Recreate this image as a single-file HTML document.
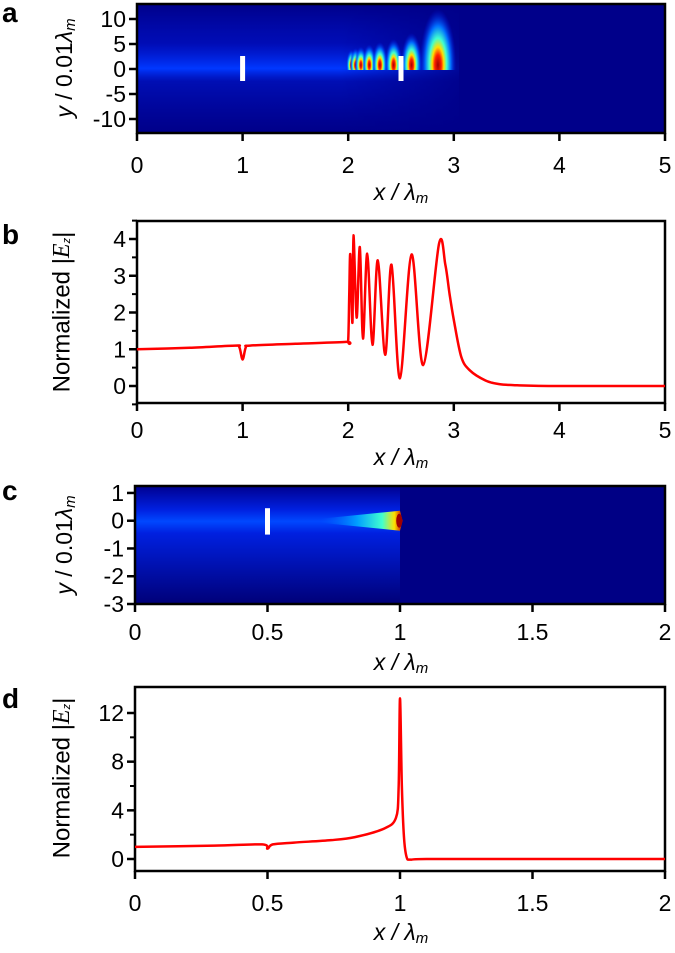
<!DOCTYPE html>
<html><head><meta charset="utf-8"><style>
html,body{margin:0;padding:0;background:#fff;}
svg{display:block;font-family:"Liberation Sans",sans-serif;}
</style></head><body>
<svg id="fig" width="675" height="953" viewBox="0 0 675 953" xmlns="http://www.w3.org/2000/svg">
<defs>
<radialGradient id="lobe" cx="0.5" cy="0.5" r="0.5">
<stop offset="0" stop-color="#a00000"/><stop offset="0.18" stop-color="#ff2000"/>
<stop offset="0.32" stop-color="#ffe000"/><stop offset="0.48" stop-color="#40ffd0"/>
<stop offset="0.7" stop-color="#0070ff"/><stop offset="1" stop-color="#0010e0" stop-opacity="0"/>
</radialGradient>
<linearGradient id="bandA" x1="0" y1="0" x2="0" y2="1">
<stop offset="0" stop-color="#0020ff" stop-opacity="0"/><stop offset="0.3" stop-color="#0018e0" stop-opacity="0.5"/>
<stop offset="0.5" stop-color="#0038ff"/><stop offset="0.6" stop-color="#0018d0" stop-opacity="0.6"/>
<stop offset="1" stop-color="#0010c0" stop-opacity="0"/>
</linearGradient>
<linearGradient id="fadeA" x1="0" y1="0" x2="1" y2="0">
<stop offset="0" stop-color="#fff"/><stop offset="0.6" stop-color="#fff"/><stop offset="1" stop-color="#fff" stop-opacity="0"/>
</linearGradient>
<mask id="maskA"><rect x="137" y="4" width="340" height="129" fill="url(#fadeA)"/></mask>
<linearGradient id="bandC" x1="0" y1="0" x2="0" y2="1">
<stop offset="0" stop-color="#000090"/><stop offset="0.2" stop-color="#0020e0"/>
<stop offset="0.3" stop-color="#0048ff"/><stop offset="0.4" stop-color="#0020e0"/>
<stop offset="1" stop-color="#000078"/>
</linearGradient>
<linearGradient id="hotC" x1="0" y1="0" x2="1" y2="0">
<stop offset="0" stop-color="#0060ff" stop-opacity="0"/><stop offset="0.45" stop-color="#00a0ff"/>
<stop offset="0.75" stop-color="#40ffd0"/><stop offset="0.9" stop-color="#ffe000"/>
<stop offset="1" stop-color="#c00000"/>
</linearGradient>
<clipPath id="clipA"><rect x="137" y="4" width="528" height="66"/></clipPath>
</defs>
<g id="root"></g>
</svg>
<script>
// Panel b data
const bX = [0,0.5,0.93,0.97,1.0,1.03,1.07,1.5,1.98,2.0,2.01,2.02,2.04,2.05,2.08,2.11,2.14,2.18,2.23,2.28,2.35,2.41,2.49,2.6,2.71,2.86,2.92,2.96,3.0,3.07,3.15,3.3,3.43,3.6,4,5];
const bY = [1.0,1.04,1.1,1.05,0.72,1.05,1.1,1.15,1.2,1.25,2.5,3.58,1.72,4.1,1.86,3.78,1.29,3.6,1.12,3.42,0.85,3.3,0.21,3.58,0.57,3.87,3.3,2.5,1.8,0.8,0.43,0.15,0.05,0.02,0,0];
// Panel d data
const dX = [0,0.3,0.48,0.5,0.52,0.6,0.74,0.83,0.94,0.985,0.995,1.0,1.007,1.015,1.025,1.04,1.1,1.5,2];
const dY = [1.0,1.1,1.2,0.85,1.2,1.35,1.55,1.8,2.5,3.4,6.0,13.2,6.0,1.8,0.15,-0.05,0,0,0];
// Panel a lobes (x centre, relative size)
const lobeX = [2.03,2.07,2.12,2.2,2.3,2.43,2.6,2.85];
const lobeS = [0.25,0.3,0.35,0.42,0.5,0.6,0.8,1.6];
// tick labels
const aXT=[0,1,2,3,4,5], aYT=[10,5,0,-5,-10], bYT=[0,1,2,3,4], cXT=[0,0.5,1,1.5,2], cYT=[1,0,-1,-2,-3], dYT=[0,4,8,12];

const NS="http://www.w3.org/2000/svg", root=document.getElementById('root');
function el(tag,attrs,parent){const e=document.createElementNS(NS,tag);for(const k in attrs)e.setAttribute(k,attrs[k]);(parent||root).appendChild(e);return e;}
function lin(d0,d1,r0,r1){return v=>r0+(v-d0)/(d1-d0)*(r1-r0);}
function txt(x,y,s,size,parent,extra){const t=el('text',Object.assign({x:x,y:y,'font-size':size,'text-anchor':'middle','dominant-baseline':'central',fill:'#000'},extra||{}),parent);t.textContent=s;return t;}
function xTitle(cx,cy){const g=el('g',{});
 const t=el('text',{x:cx,y:cy,'font-size':23,'text-anchor':'middle','dominant-baseline':'central','font-style':'italic'},g);
 t.innerHTML='x / λ<tspan font-size="15" dy="6">m</tspan>';}
function curvePath(xs,ys,sx,sy){let p=[];for(let i=0;i<xs.length;i++)p.push([sx(xs[i]),sy(ys[i])]);
 let d='M'+p[0][0]+','+p[0][1];for(let i=0;i<p.length-1;i++){const p0=p[Math.max(i-1,0)],p1=p[i],p2=p[i+1],p3=p[Math.min(i+2,p.length-1)];
 const t=0.16;d+=` C${p1[0]+(p2[0]-p0[0])*t},${p1[1]+(p2[1]-p0[1])*t} ${p2[0]-(p3[0]-p1[0])*t},${p2[1]-(p3[1]-p1[1])*t} ${p2[0]},${p2[1]}`;}return d;}
function axes(g,L,R,T,B,sx,sy,xt,yt,xminor,yminor,xlabY){
 el('rect',{x:L,y:T,width:R-L,height:B-T,fill:'none',stroke:'#000','stroke-width':2.5},g);
 xt.forEach(v=>{el('line',{x1:sx(v),x2:sx(v),y1:B,y2:B+8,stroke:'#000','stroke-width':2.5},g);const t=txt(sx(v),xlabY,String(v),23,g);});
 xminor.forEach(v=>el('line',{x1:sx(v),x2:sx(v),y1:B,y2:B+4,stroke:'#000','stroke-width':2},g));
 yt.forEach(v=>{el('line',{x1:L-8,x2:L,y1:sy(v),y2:sy(v),stroke:'#000','stroke-width':2.5},g);const t=txt(L-11,sy(v),String(v).replace('-','‑'),23,g,{'text-anchor':'end'});});
 yminor.forEach(v=>el('line',{x1:L-5,x2:L,y1:sy(v),y2:sy(v),stroke:'#000','stroke-width':2},g));
}
function panelLabel(s,x,y){const t=el('text',{x:x,y:y,'font-size':28,'font-weight':'bold'});t.textContent=s;}
function yTitleMap(cx,cy){const t=el('text',{x:0,y:0,'font-size':23,'text-anchor':'middle','dominant-baseline':'central',transform:`translate(${cx},${cy}) rotate(-90)`});
 t.innerHTML='<tspan font-style="italic">y</tspan> / 0.01<tspan font-style="italic">λ</tspan><tspan font-style="italic" font-size="15" dy="6">m</tspan>';}
function yTitleE(cx,cy){const t=el('text',{x:0,y:0,'font-size':24,'text-anchor':'middle','dominant-baseline':'central',transform:`translate(${cx},${cy}) rotate(-90)`});
 t.innerHTML='Normalized |<tspan font-style="italic" font-family="Liberation Serif">E</tspan><tspan font-size="11" dy="5" font-style="italic">z</tspan><tspan dy="-5">|</tspan>';}

// ---- Panel a ----
{const g=el('g',{});
 const L=137,R=665,T=4,B=133,sx=lin(0,5,L,R),sy=lin(-12.8,13,B,T);
 el('rect',{x:L,y:T,width:R-L,height:B-T,fill:'#00008a'},g);
 el('rect',{x:L,y:T,width:sx(3.05)-L,height:B-T,fill:'url(#bandA)',mask:'url(#maskA)'},g);
 const cg=el('g',{'clip-path':'url(#clipA)'},g);
 lobeX.forEach((x,i)=>{const s=lobeS[i];const e=el('ellipse',{cx:sx(x),cy:sy(0.8),rx:3+9.5*s,ry:8+30*s,fill:'url(#lobe)'},cg);});
 [1,2.5].forEach(x=>{const r=el('rect',{x:sx(x)-2.5,y:sy(2.6),width:5,height:sy(-2.4)-sy(2.6),fill:'#fff'},g);});
 axes(g,L,R,T,B,sx,sy,aXT,aYT,[],[],165);
 panelLabel('a',2,22);yTitleMap(64,68);xTitle(401,192);}

// ---- Panel b ----
{const g=el('g',{});
 const L=137,R=665,T=221,B=403,sx=lin(0,5,L,R),sy=lin(0,4,386,239);
 axes(g,L,R,T,B,sx,sy,aXT,bYT,[],[-0.5,0.5,1.5,2.5,3.5,4.5],430);
 const p=el('path',{d:curvePath(bX,bY,sx,sy),fill:'none',stroke:'#ff0000','stroke-width':2.5,'stroke-linejoin':'round'},g);
 
 panelLabel('b',2,244);yTitleE(62,312);xTitle(401,457);}

// ---- Panel c ----
{const g=el('g',{});
 const L=135,R=665,T=486,B=604,sx=lin(0,2,L,R),sy=lin(-3,1.25,B,T);
 el('rect',{x:L,y:T,width:sx(1)-L,height:B-T,fill:'url(#bandC)'},g);
 el('rect',{x:sx(1),y:T,width:R-sx(1),height:B-T,fill:'#000085'},g);
 const y0=sy(0);
 el('polygon',{points:`${sx(0.7)},${y0-2} ${sx(1)},${y0-10} ${sx(1.01)},${y0} ${sx(1)},${y0+10} ${sx(0.7)},${y0+2}`,fill:'url(#hotC)'},g);
 el('ellipse',{cx:sx(0.997),cy:y0,rx:3,ry:7,fill:'#a00000'},g);
 const r=el('rect',{x:sx(0.5)-2.5,y:sy(0.45),width:5,height:sy(-0.5)-sy(0.45),fill:'#fff'},g);
 axes(g,L,R,T,B,sx,sy,cXT,cYT,[],[],632);
 panelLabel('c',2,500);yTitleMap(64,545);xTitle(401,662);}

// ---- Panel d ----
{const g=el('g',{});
 const L=135,R=665,T=687,B=871,sx=lin(0,2,L,R),sy=lin(0,12,859,713);
 axes(g,L,R,T,B,sx,sy,cXT,dYT,[],[2,6,10],903);
 const p=el('path',{d:curvePath(dX,dY,sx,sy),fill:'none',stroke:'#ff0000','stroke-width':2.5,'stroke-linejoin':'round'},g);
 
 panelLabel('d',2,708);yTitleE(62,778);xTitle(401,932);}
</script>
</body></html>
